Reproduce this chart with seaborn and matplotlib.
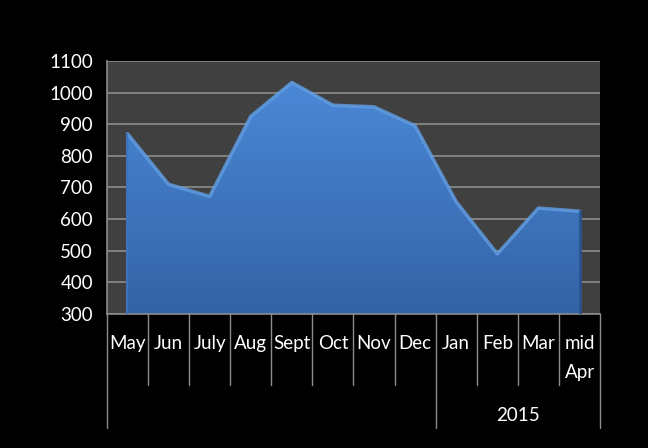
import matplotlib
matplotlib.use("Agg")
import matplotlib.pyplot as plt
import numpy as np
import pandas as pd
import seaborn as sns

# monthly values
months = ["May", "Jun", "July", "Aug", "Sept", "Oct", "Nov", "Dec",
          "Jan", "Feb", "Mar", "mid\nApr"]
values = [870, 710, 672, 925, 1032, 960, 955, 895, 655, 490, 635, 625]
year_label = "2015"
year_start = 8  # Jan is the first month of 2015
y_ticks = [300, 400, 500, 600, 700, 800, 900, 1000, 1100]

df = pd.DataFrame({"month": months, "value": values, "pos": range(len(months))})

sns.set_style("dark")
plt.rcParams["font.family"] = ["Lato", "DejaVu Sans"]
fs = 13.5

fig = plt.figure(figsize=(6.48, 4.48), dpi=100, facecolor="black")
ax = fig.add_axes([0.165, 0.299, 0.761, 0.565])
ax.set_facecolor("#404040")

# gradient filled area
poly = ax.fill_between(df["pos"], 300, df["value"], color="none", lw=0, zorder=2)
grad = np.linspace(0, 1, 256).reshape(-1, 1)
cmap = matplotlib.colors.LinearSegmentedColormap.from_list("b", ["#3463a6", "#4a88d6"])
img = ax.imshow(grad, cmap=cmap, aspect="auto", origin="lower",
                extent=[-0.5, len(months) - 0.5, 300, max(values)], zorder=2)
img.set_clip_path(poly.get_paths()[0], transform=ax.transData)

# lighter bevel edge along the top
sns.lineplot(data=df, x="pos", y="value", ax=ax, color="#62a0e6", lw=2.5,
             zorder=3, alpha=0.8)
ax.plot([0, 0], [300, values[0]], color="#3d73bb", lw=1.5, zorder=3)
ax.plot([len(months) - 1] * 2, [300, values[-1]], color="#2b5590", lw=2, zorder=3)

ax.set_xlim(-0.5, len(months) - 0.5)
ax.set_ylim(300, 1100)
ax.set_yticks(y_ticks)
ax.set_yticklabels([str(t) for t in y_ticks], color="white", fontsize=fs)
ax.tick_params(axis="y", length=7, color="#8c8c8c", width=1, pad=3)
ax.grid(axis="y", color="#8c8c8c", lw=1.2, zorder=1)
ax.grid(axis="x", visible=False)
ax.set_xticks([])
ax.set_xlabel("")
ax.set_ylabel("")
for side in ["top", "right"]:
    ax.spines[side].set_visible(False)
for side in ["left", "bottom"]:
    ax.spines[side].set_visible(True)
    ax.spines[side].set_color("#8c8c8c")
    ax.spines[side].set_linewidth(1.2)
ax.set_axisbelow(True)

# multi-level category axis
tr = ax.get_xaxis_transform()
n = len(months)
for i in range(n + 1):
    x = i - 0.5
    low = -0.45 if i in (0, year_start, n) else -0.28
    ax.plot([x, x], [0, low], transform=tr, color="#8c8c8c", lw=1, clip_on=False)
for i, m in enumerate(months):
    ax.text(i, -0.082, m, transform=tr, ha="center", va="top", color="white",
            fontsize=fs, linespacing=1.85)
ax.text((year_start + n - 1) / 2, -0.40, year_label, transform=tr, ha="center",
        va="center", color="white", fontsize=fs)

fig.savefig("out.png", dpi=100, facecolor="black")
